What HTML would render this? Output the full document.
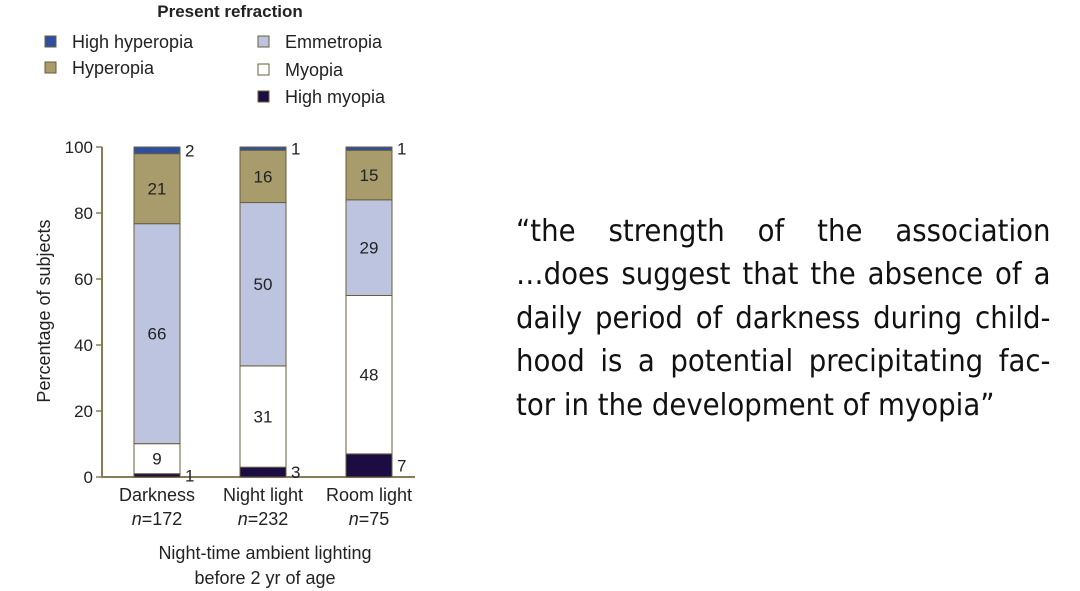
<!DOCTYPE html>
<html><head><meta charset="utf-8"><style>
html,body{margin:0;padding:0;background:#fff;width:1080px;height:591px;overflow:hidden}
svg{position:absolute;left:0;top:0}
.q{position:absolute;left:516px;width:581px;font-family:"DejaVu Sans","Liberation Sans",sans-serif;font-size:30px;line-height:36px;color:#111;white-space:nowrap;transform:scaleX(0.92);transform-origin:0 0}
.j{text-align:justify;text-align-last:justify;white-space:normal}
</style></head><body>
<svg width="1080" height="591" font-family="Liberation Sans, sans-serif">
<text x="230" y="17" text-anchor="middle" font-size="17" font-weight="bold" fill="#222">Present refraction</text>
<g id="legend"></g>
<g id="axes"></g>
<g id="bars"></g>
<text x="265" y="559" text-anchor="middle" font-size="18" fill="#222">Night-time ambient lighting</text>
<text x="265" y="584" text-anchor="middle" font-size="18" fill="#222">before 2 yr of age</text>
<text transform="translate(50,311) rotate(-90)" text-anchor="middle" font-size="18" fill="#222">Percentage of subjects</text>
</svg>
<div class="q j" style="top:214px">“the strength of the association</div>
<div class="q j" style="top:257px">…does suggest that the absence of a</div>
<div class="q j" style="top:301px">daily period of darkness during child-</div>
<div class="q j" style="top:344px">hood is a potential precipitating fac-</div>
<div class="q" style="top:388px">tor in the development of myopia”</div>
<script>
const categories=["Darkness","Night light","Room light"];
const nLabels=["172","232","75"];
const series=["High myopia","Myopia","Emmetropia","Hyperopia","High hyperopia"];
const highMyopia=[1,3,7];
const myopia=[9,31,48];
const emmetropia=[66,50,29];
const hyperopia=[21,16,15];
const highHyperopia=[2,1,1];
const yTicks=[0,20,40,60,80,100];
const colors=["#1c0c44","#ffffff","#bcc4e0","#a89c6c","#2e4fa0"];
const NS="http://www.w3.org/2000/svg";
function mk(t,a,p){const e=document.createElementNS(NS,t);for(const k in a)e.setAttribute(k,a[k]);p.appendChild(e);return e;}
const y=v=>477-v*3.3;
const xc=i=>157+i*106;
const bw=46;
const axes=document.getElementById('axes');
const ax=mk('path',{d:'M102,147 L102,477 L415,477',fill:'none',stroke:'#8a7a5a','stroke-width':2},axes);


yTicks.forEach(t=>{
 const l=mk('line',{x1:96,x2:102,y1:y(t),y2:y(t),stroke:'#8a7a5a','stroke-width':1.5},axes);
 
 
 const tx=mk('text',{x:93,y:y(t)+6,'text-anchor':'end','font-size':17,fill:'#222'},axes);
 
 
 tx.textContent=t;
});
categories.forEach((c,i)=>{
 const t=mk('text',{x:xc(i),y:501,'text-anchor':'middle','font-size':18,fill:'#222'},axes);
 
 
 t.textContent=c;
 const n=mk('text',{x:xc(i),y:525,'text-anchor':'middle','font-size':18,fill:'#222'},axes);
 
 
 n.innerHTML='<tspan font-style="italic">n</tspan>='+nLabels[i];
});
const data=[highMyopia,myopia,emmetropia,hyperopia,highHyperopia];
const bars=document.getElementById('bars');
categories.forEach((c,i)=>{
 let total=0;data.forEach(a=>total+=a[i]);
 const k=100/total;
 let base=0;
 data.forEach((arr,s)=>{
  const v=arr[i]*k;
  const r=mk('rect',{x:xc(i)-bw/2,y:y(base+v),width:bw,height:v*3.3,fill:colors[s],stroke:'#6a5c3c','stroke-width':1},bars);
  
  
  const t=mk('text',{'font-size':17,fill:'#222'},bars);
  
  
  t.textContent=arr[i];
  if(arr[i]<8){t.setAttribute('x',xc(i)+bw/2+5);t.setAttribute('y',y(base+v/2)+6);}
  else{t.setAttribute('x',xc(i));t.setAttribute('text-anchor','middle');t.setAttribute('y',y(base+v/2)+6);}
  base+=v;
 });
});
const leg=document.getElementById('legend');
const legItems=[[4,45,42],[3,45,68],[2,258,42],[1,258,70],[0,258,97]];
legItems.forEach(([s,x0,yc])=>{
 const r=mk('rect',{x:x0,y:yc-6,width:11,height:11,fill:colors[s],stroke:'#6a5c3c','stroke-width':1},leg);
 
 
 const t=mk('text',{x:x0+27,y:yc+6,'font-size':18,fill:'#222'},leg);
 
 
 t.textContent=series[s];
});
</script>
</body></html>
